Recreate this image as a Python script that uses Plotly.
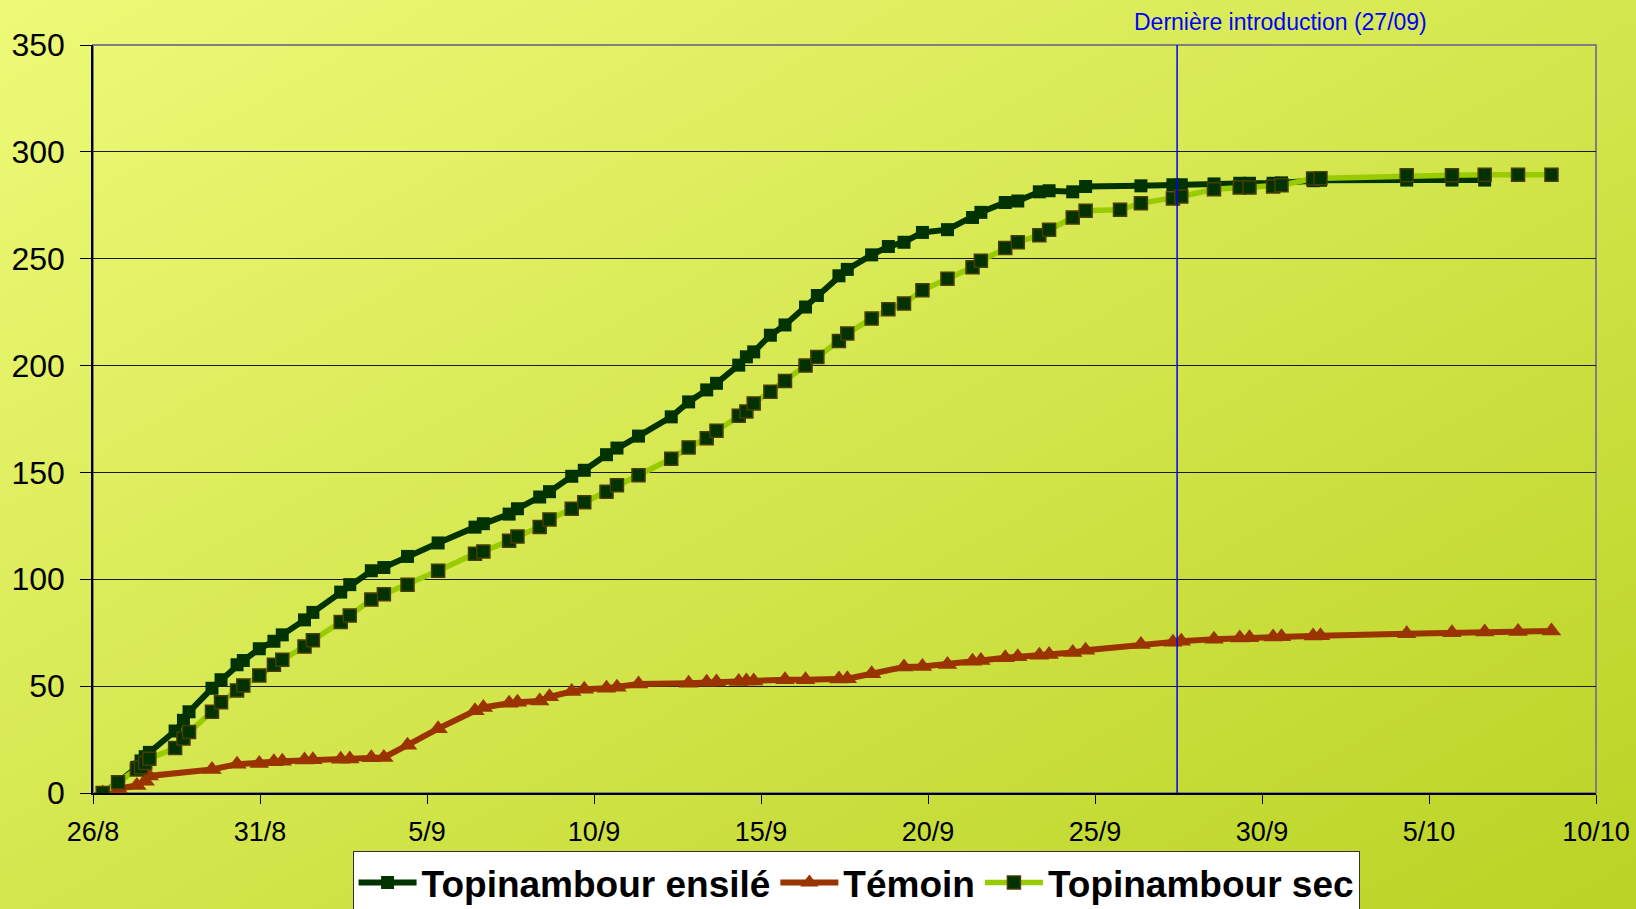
import base64
import plotly.graph_objects as go

# heures de mesure (communes aux deux lots de topinambour)
heures_sec = [
    "2007-08-26 07:00", "2007-08-26 18:00", "2007-08-27 07:30", "2007-08-27 10:30",
    "2007-08-27 13:30", "2007-08-27 16:30", "2007-08-28 11:00", "2007-08-28 17:00",
    "2007-08-28 21:00", "2007-08-29 13:30", "2007-08-29 20:00", "2007-08-30 07:30",
    "2007-08-30 12:00", "2007-08-30 23:30", "2007-08-31 10:00", "2007-08-31 16:00",
    "2007-09-01 08:00", "2007-09-01 14:00", "2007-09-02 10:00", "2007-09-02 16:30",
    "2007-09-03 08:00", "2007-09-03 17:00", "2007-09-04 10:00", "2007-09-05 08:00",
    "2007-09-06 10:30", "2007-09-06 16:30", "2007-09-07 11:00", "2007-09-07 17:00",
    "2007-09-08 09:00", "2007-09-08 16:00", "2007-09-09 08:00", "2007-09-09 17:00",
    "2007-09-10 09:00", "2007-09-10 16:30", "2007-09-11 08:00", "2007-09-12 07:30",
    "2007-09-12 20:00", "2007-09-13 09:00", "2007-09-13 16:00", "2007-09-14 08:00",
    "2007-09-14 13:30", "2007-09-14 18:45", "2007-09-15 06:45", "2007-09-15 17:15",
    "2007-09-16 08:00", "2007-09-16 16:30", "2007-09-17 08:00", "2007-09-17 14:00",
    "2007-09-18 07:30", "2007-09-18 19:30", "2007-09-19 06:45", "2007-09-19 20:00",
    "2007-09-20 14:00", "2007-09-21 08:00", "2007-09-21 14:00", "2007-09-22 07:30",
    "2007-09-22 16:30", "2007-09-23 08:00", "2007-09-23 15:00", "2007-09-24 08:00",
    "2007-09-24 17:15", "2007-09-25 18:00", "2007-09-26 09:00", "2007-09-27 08:00",
    "2007-09-27 14:00", "2007-09-28 13:30", "2007-09-29 08:00", "2007-09-29 15:00",
    "2007-09-30 08:00", "2007-09-30 14:00", "2007-10-01 12:45", "2007-10-01 18:00",
    "2007-10-04 08:00", "2007-10-05 16:30", "2007-10-06 16:00", "2007-10-07 16:00",
    "2007-10-08 16:00",
]
topi_sec = [
    0, 5, 11, 12, 14, 16, 21, 25.5, 28.5, 38, 42.5, 48, 50.3, 55, 60, 62.3,
    68.5, 71.5, 80, 83, 90.5, 93, 97.5, 104, 112, 113, 118, 120, 124.5, 128,
    133, 136, 141, 144, 148.7, 156.4, 161.7, 166, 169.5, 176.5, 178.5, 182.3,
    187.8, 192.8, 200, 204, 211.5, 215, 222, 226.3, 229, 235.2, 240.6, 246,
    249, 255, 257.7, 261, 263.6, 269.3, 272.4, 272.9, 276, 278.2, 279.1, 282.5,
    283.3, 283.3, 283.8, 284.4, 287.5, 287.6, 289, 289, 289.3, 289.3, 289.3,
]

heures_ensile = [h for h in heures_sec
                 if h not in ("2007-09-25 18:00", "2007-10-07 16:00", "2007-10-08 16:00")]
topi_ensile = [
    0, 5, 12, 15, 17, 19, 29, 34, 38, 49, 53, 60, 62, 67.5, 71, 74,
    81, 84.5, 94, 97.5, 104, 105.5, 110.7, 117, 124.4, 126, 130.5, 133, 138.5, 141,
    148.2, 151, 158.3, 161.4, 167, 176, 183, 188.6, 191.7, 200.2, 204.1, 206.4,
    214.2, 219, 227.4, 232.8, 242, 245, 251.8, 255.7, 257.7, 262.3, 263.6, 269.3,
    271.7, 276.3, 277, 281.3, 281.8, 281.3, 283.8, 284.1, 284.6, 284.6, 285,
    285.3, 285.3, 285.3, 285.5, 286.5, 286.7, 286.8, 286.8, 286.8,
]

heures_temoin = [
    "2007-08-26 07:00", "2007-08-26 18:00", "2007-08-27 07:30", "2007-08-27 13:30",
    "2007-08-27 16:30", "2007-08-29 13:30", "2007-08-30 07:30", "2007-08-30 23:30",
    "2007-08-31 10:00", "2007-08-31 16:00", "2007-09-01 08:00", "2007-09-01 14:00",
    "2007-09-02 10:00", "2007-09-02 16:30", "2007-09-03 08:00", "2007-09-03 17:00",
    "2007-09-04 10:00", "2007-09-05 08:00", "2007-09-06 10:30", "2007-09-06 16:30",
    "2007-09-07 11:00", "2007-09-07 17:00", "2007-09-08 09:00", "2007-09-08 16:00",
    "2007-09-09 08:00", "2007-09-09 17:00", "2007-09-10 09:00", "2007-09-10 16:30",
    "2007-09-11 08:00", "2007-09-12 20:00", "2007-09-13 09:00", "2007-09-13 16:00",
    "2007-09-14 08:00", "2007-09-14 13:30", "2007-09-14 18:45", "2007-09-15 17:15",
    "2007-09-16 08:00", "2007-09-17 08:00", "2007-09-17 14:00", "2007-09-18 07:30",
    "2007-09-19 06:45", "2007-09-19 20:00", "2007-09-20 14:00", "2007-09-21 08:00",
    "2007-09-21 14:00", "2007-09-22 07:30", "2007-09-22 16:30", "2007-09-23 08:00",
    "2007-09-23 15:00", "2007-09-24 08:00", "2007-09-24 17:15", "2007-09-26 09:00",
    "2007-09-27 08:00", "2007-09-27 14:00", "2007-09-28 13:30", "2007-09-29 08:00",
    "2007-09-29 15:00", "2007-09-30 08:00", "2007-09-30 14:00", "2007-10-01 12:45",
    "2007-10-01 18:00", "2007-10-04 08:00", "2007-10-05 16:30", "2007-10-06 16:00",
    "2007-10-07 16:00", "2007-10-08 16:00",
]
temoin = [
    0, 2, 3.5, 5.5, 8, 11, 13.5, 13.8, 14.6, 14.9, 15.4, 15.5, 15.8, 15.9,
    16.5, 16.6, 22.4, 30.1, 38.5, 40, 42, 42.5, 43, 45, 47.5, 48.5, 49, 49.5,
    51, 51.4, 51.8, 51.9, 52.2, 52.4, 52.4, 53, 53, 53.3, 53.5, 55.8, 59, 59.2,
    60.1, 61.7, 62, 63.3, 63.7, 64.5, 64.8, 65.7, 66.8, 69.5, 70.5, 71, 72,
    72.5, 72.6, 73, 73.1, 73.5, 73.6, 74.5, 75, 75.3, 75.6, 75.8,
]

derniere_intro = "2007-09-27 11:00"

fond = ("<svg xmlns='http://www.w3.org/2000/svg' width='1636' height='909'>"
        "<defs><linearGradient id='g' x1='0' y1='0' x2='1' y2='1'>"
        "<stop offset='0' stop-color='#EEFA78'/><stop offset='1' stop-color='#BAD324'/>"
        "</linearGradient></defs><rect width='1636' height='909' fill='url(#g)'/></svg>")
fond_src = "data:image/svg+xml;base64," + base64.b64encode(fond.encode()).decode()

fig = go.Figure()
fig.add_trace(go.Scatter(
    x=heures_ensile, y=topi_ensile, name="Topinambour ensilé", mode="lines+markers",
    line=dict(color="#003300", width=6),
    marker=dict(symbol="square", size=13, color="#003300", line=dict(width=0)),
))
fig.add_trace(go.Scatter(
    x=heures_temoin, y=temoin, name="Témoin", mode="lines+markers",
    line=dict(color="#993300", width=6),
    marker=dict(symbol="triangle-up", size=17, color="#993300", line=dict(width=0)),
))
fig.add_trace(go.Scatter(
    x=heures_sec, y=topi_sec, name="Topinambour sec", mode="lines+markers",
    line=dict(color="#99CC00", width=5.5),
    marker=dict(symbol="square", size=13, color="#003300", line=dict(width=1.5, color="#4a3c00")),
))

fig.add_shape(type="rect", xref="paper", yref="paper", x0=0, x1=1, y0=0, y1=1,
              line=dict(color="#808080", width=2), layer="between")
fig.add_shape(type="line", xref="x", yref="paper", x0=derniere_intro, x1=derniere_intro,
              y0=0, y1=1, line=dict(color="#0000FF", width=1.5))
fig.add_annotation(text="Dernière introduction (27/09)", xref="paper", yref="paper",
                   x=0.79, y=1.031, xanchor="center", yanchor="middle", showarrow=False,
                   font=dict(family="Liberation Sans", size=23, color="#0000FF"))

fig.add_layout_image(source=fond_src, xref="paper", yref="paper",
                     x=-93 / 1503, y=1 + 45 / 748, sizex=1636 / 1503, sizey=909 / 748,
                     xanchor="left", yanchor="top", sizing="stretch", layer="below")

fig.update_layout(
    width=1636, height=909,
    margin=dict(l=93, r=40, t=45, b=116, autoexpand=False),
    paper_bgcolor="rgba(0,0,0,0)", plot_bgcolor="rgba(0,0,0,0)",
    font=dict(family="Liberation Sans", color="black"),
    showlegend=True,
    legend=dict(orientation="h", x=0.5077, xanchor="center", y=-0.0775, yanchor="top",
                bgcolor="white", bordercolor="#333333", borderwidth=1, itemwidth=58,
                font=dict(family="Liberation Sans", size=37, color="black", weight="bold")),
    hovermode=False,
)
fig.update_xaxes(
    type="date", range=["2007-08-26", "2007-10-10"], tick0="2007-08-26",
    dtick=5 * 86400000, tickformat="%-d/%-m", ticks="outside", ticklen=9,
    tickcolor="black", showline=True, linecolor="black", linewidth=1.5,
    showgrid=False, zeroline=False, ticklabelstandoff=5,
    tickfont=dict(family="Liberation Sans", size=27, color="black"),
)
fig.update_yaxes(
    range=[0, 350], dtick=50, ticks="outside", ticklen=11, tickcolor="black",
    showline=True, linecolor="black", linewidth=1.5, showgrid=True,
    gridcolor="#1a1a1a", gridwidth=1, zeroline=False, ticklabelstandoff=9,
    tickfont=dict(family="Liberation Sans", size=32, color="black"),
)

# la page ne doit pas avoir de marge autour du graphique
fig.write_html("out.html", config={"displayModeBar": False},
               post_script="document.body.style.margin='0';document.body.style.overflow='hidden';")
